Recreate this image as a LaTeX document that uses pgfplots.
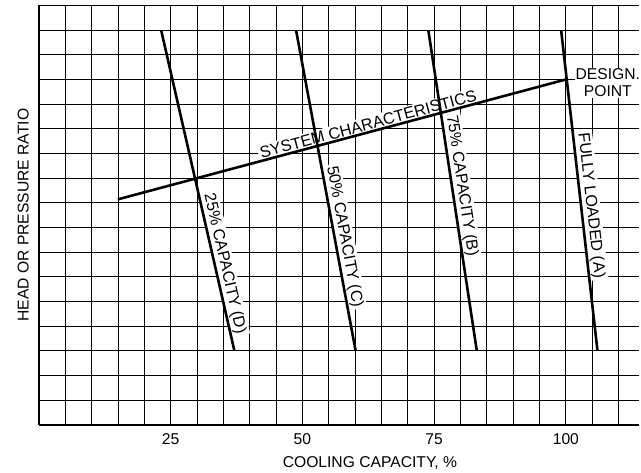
\documentclass[border=0pt]{standalone}
\usepackage{fontspec}
\setmainfont{Liberation Sans}
\usepackage{pgfplots}
\pgfplotsset{compat=1.18}
\newcommand{\cf}{\fontsize{15.7}{17}\selectfont}
\newcommand{\lf}{\fontsize{16.2}{17}\selectfont}
\begin{document}
\begin{tikzpicture}
\begin{axis}[
  name=ax,
  scale only axis,
  width=602pt, height=420.5pt,
  xmin=0, xmax=113.9, ymin=0, ymax=17,
  axis x line=bottom, axis y line=left,
  axis line style={-, line width=1.6pt},
  xtick={25,50,75,100},
  minor xtick={0,5,...,110},
  ytick={0,1,...,17}, yticklabels={},
  grid=both,
  major grid style={black, line width=0.8pt},
  minor grid style={black, line width=0.8pt},
  major tick length=0pt, minor tick length=0pt,
  /pgf/number format/assume math mode=true,
  tick label style={font=\cf},
  xticklabel style={anchor=base, yshift=-19.7pt},
  xlabel={COOLING CAPACITY, \%},
  ylabel={HEAD OR PRESSURE RATIO},
  label style={font=\cf},
  xlabel style={at={(axis description cs:0.5515,0)}, anchor=base, yshift=-43pt},
  ylabel style={at={(axis description cs:-0.026,0.5)}, anchor=center},
  clip=false,
]
% label nodes (drawn first so the lines lie on top)
\addplot[draw=none] coordinates {(23.2,16) (37.1,3)}
  node[pos=0.735, sloped, above, fill=white, inner sep=2pt, font=\lf] {25\% CAPACITY (D)};
\addplot[draw=none] coordinates {(48.8,16) (60.1,3)}
  node[pos=0.65, sloped, above, fill=white, inner sep=2pt, font=\lf] {50\% CAPACITY (C)};
\addplot[draw=none] coordinates {(73.9,16) (83.1,3)}
  node[pos=0.49, sloped, above, fill=white, inner sep=2pt, font=\lf] {75\% CAPACITY (B)};
\addplot[draw=none] coordinates {(99.1,16) (106.0,3)}
  node[pos=0.55, sloped, above, fill=white, inner sep=2pt, font=\lf] {FULLY LOADED (A)};
\addplot[draw=none] coordinates {(15,9.14) (100,14)}
  node[pos=0.563, sloped, above, fill=white, inner sep=2pt, font=\lf] {SYSTEM CHARACTERISTICS}
  node[pos=1, anchor=west, align=center, xshift=8.6pt, yshift=-3.3pt, fill=white, inner sep=1pt, font=\cf] {DESIGN.\\POINT};
% lines
\addplot[black, line width=2.6pt] coordinates {(23.2,16) (37.1,3)};
\addplot[black, line width=2.6pt] coordinates {(48.8,16) (60.1,3)};
\addplot[black, line width=2.6pt] coordinates {(73.9,16) (83.1,3)};
\addplot[black, line width=2.6pt] coordinates {(99.1,16) (106.0,3)};
\addplot[black, line width=2.6pt] coordinates {(15,9.14) (100,14)};
\end{axis}
\path (ax.south west) ++(-39pt,-47pt) coordinate (bl);
\path (ax.north east) ++(0pt,5.5pt) coordinate (tr);
\path (bl) rectangle (tr);
\end{tikzpicture}
\end{document}
